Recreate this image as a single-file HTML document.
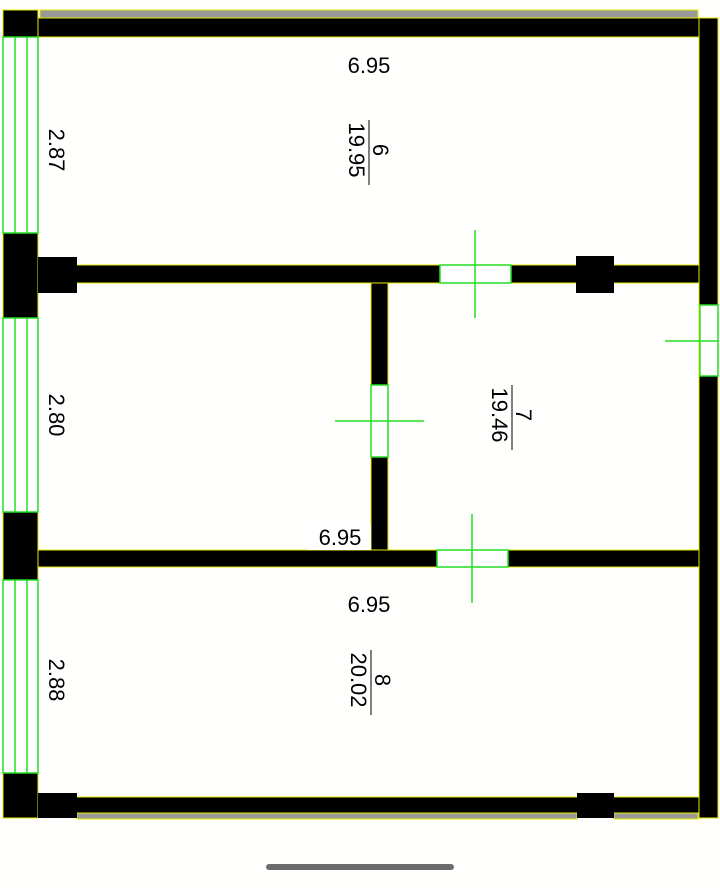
<!DOCTYPE html>
<html><head><style>body{margin:0;background:#fff}svg{display:block}</style></head><body>
<svg width="720" height="888" viewBox="0 0 720 888" xmlns="http://www.w3.org/2000/svg" font-family="Liberation Sans, sans-serif">
<rect width="720" height="888" fill="#fffffd"/>
<!-- gray strips -->
<rect x="40" y="10" width="658" height="8" fill="#9a9a9a" stroke="#e6e600"/>
<rect x="77" y="813" width="500" height="6" fill="#9a9a9a" stroke="#e6e600"/>
<rect x="614" y="813" width="84" height="6" fill="#9a9a9a" stroke="#e6e600"/>
<g fill="#000" stroke="#e6e600" stroke-width="1">
<rect x="38" y="18" width="662" height="19"/>
<rect x="3" y="10" width="35" height="27"/>
<rect x="38" y="265" width="662" height="18"/>
<rect x="38" y="550" width="662" height="17"/>
<rect x="38" y="797" width="662" height="16"/>
<rect x="699" y="18" width="19" height="800"/>
<rect x="371" y="283" width="17" height="267"/>
<rect x="3" y="233" width="35" height="85"/>
<rect x="3" y="512" width="35" height="68"/>
<rect x="3" y="773" width="35" height="45"/>
</g>
<g fill="#000">
<rect x="38" y="257" width="39" height="36"/>
<rect x="576" y="256" width="38" height="37"/>
<rect x="38" y="793" width="39" height="25"/>
<rect x="577" y="793" width="37" height="25"/>
</g>
<!-- left windows -->
<g fill="#fff" stroke="#22dd22" stroke-width="1.5">
<rect x="3" y="37" width="35" height="196"/>
<rect x="3" y="318" width="35" height="194"/>
<rect x="3" y="580" width="35" height="193"/>
<path d="M15 37V233M27 37V233M15 318V512M27 318V512M15 580V773M27 580V773"/>
<!-- doors -->
<rect x="440" y="265" width="71" height="18"/>
<rect x="437" y="550" width="71" height="17"/>
<rect x="371" y="385" width="17" height="72"/>
<rect x="700" y="305" width="18" height="71"/>
<path d="M475 230V318M472 514V603M335 421H424M665 341H718" fill="none"/>
</g>
<rect x="308" y="524" width="63" height="26" fill="#fff"/>
<g font-size="22" fill="#000" text-anchor="middle">
<text x="369" y="73">6.95</text>
<text x="369" y="612">6.95</text>
<text x="340" y="545">6.95</text>
<text transform="translate(57,150) rotate(90)" y="8">2.87</text>
<text transform="translate(57,415) rotate(90)" y="8">2.80</text>
<text transform="translate(57,680) rotate(90)" y="8">2.88</text>
<g transform="translate(367,150) rotate(90)"><text y="-6">6</text><text y="18">19.95</text><line x1="-30" y1="-2" x2="35" y2="-2" stroke="#000"/></g>
<g transform="translate(510,415) rotate(90)"><text y="-6">7</text><text y="18">19.46</text><line x1="-30" y1="-2" x2="35" y2="-2" stroke="#000"/></g>
<g transform="translate(369,680) rotate(90)"><text y="-6">8</text><text y="18">20.02</text><line x1="-30" y1="-2" x2="35" y2="-2" stroke="#000"/></g>
</g>
<rect x="266" y="864" width="188" height="6" rx="3" fill="#6b6b6b"/>
</svg>
</body></html>
